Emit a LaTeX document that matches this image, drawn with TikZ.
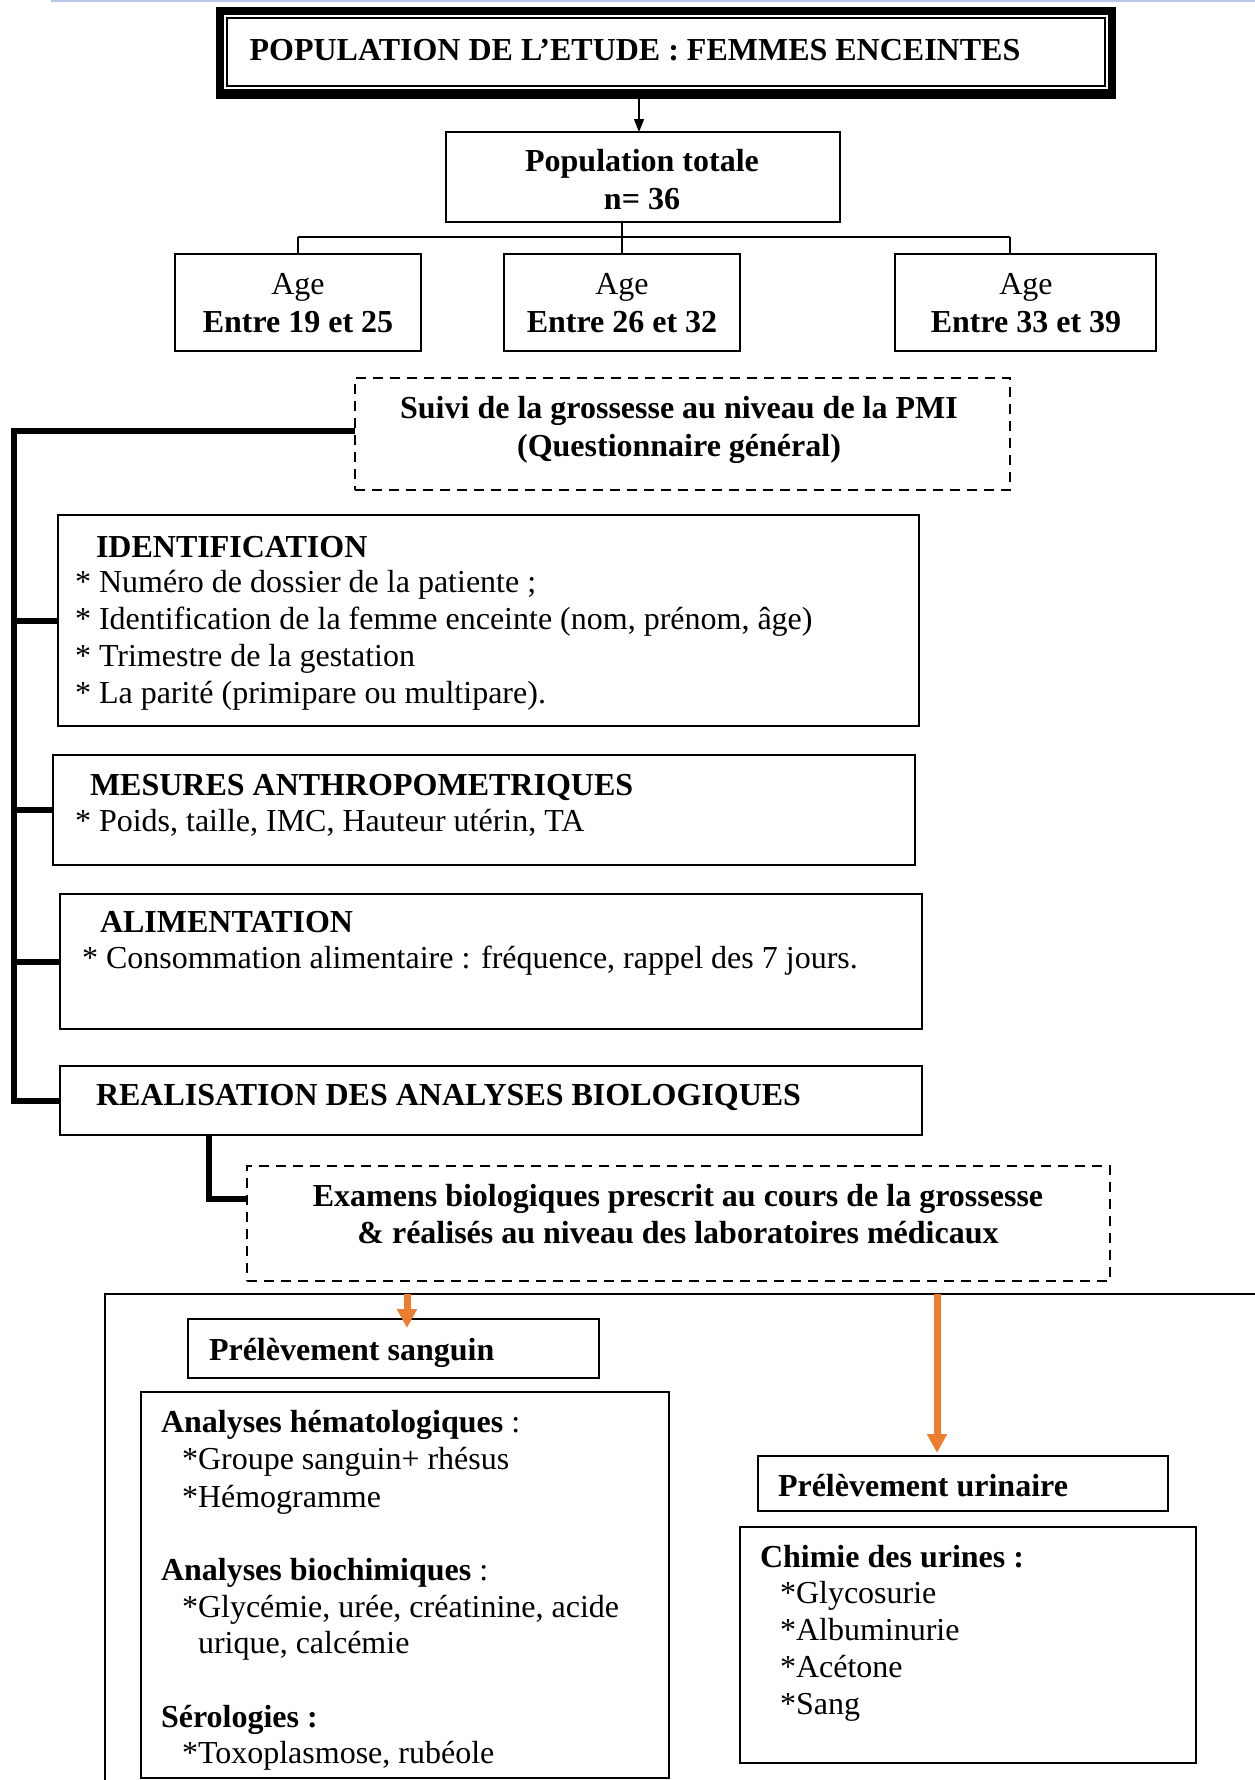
\documentclass[tikz,border=0pt]{standalone}
\usepackage{fontspec}
\setmainfont{Liberation Serif}
\usetikzlibrary{arrows.meta,calc}
\definecolor{topblue}{RGB}{180,199,231}
\definecolor{orangeA}{RGB}{237,125,49}
\begin{document}
\begin{tikzpicture}[x=1pt,y=-1pt,
 every node/.style={font=\fontsize{32}{37}\selectfont, inner sep=0pt, outer sep=0pt},
 bf/.style={font=\fontsize{32}{37}\selectfont\bfseries},
 frame/.style={draw, line width=2pt, anchor=north west},
 dframe/.style={draw, line width=2pt, dash pattern=on 10pt off 7pt, anchor=north west},
 txt/.style={anchor=base west},
 ctxt/.style={anchor=base},
 bracket/.style={line width=6pt},
 thinline/.style={line width=1.5pt},
 oarr/.style={draw=orangeA, line width=7pt, -{Triangle[length=19pt,width=19pt,fill=orangeA]}},
 barr/.style={line width=1.5pt, -{Triangle[length=13pt,width=10pt]}}]
\useasboundingbox (0,0) rectangle (1255,1780);
\fill[white] (0,0) rectangle (1255,1780);

% top rule
\draw[topblue, line width=2pt] (51,1) -- (1255,1);

% title
\node[fill=black, minimum width=900pt, minimum height=92pt, anchor=north west] (title) at (216,7) {};
\node[fill=white, minimum width=884pt, minimum height=74pt, anchor=north west] (titlein) at (224,15) {};
\node[draw, line width=1.5pt, minimum width=878pt, minimum height=68pt, anchor=north west] (titleline) at (227,18) {};
\node[ctxt, bf] (titletxt) at (635,60) {POPULATION DE L’ETUDE : FEMMES ENCEINTES};

% population totale
\node[frame, minimum width=394pt, minimum height=90pt] (pop) at (446,132) {};
\node[ctxt, bf] (poptxta) at (642,171) {Population totale};
\node[ctxt, bf] (poptxtb) at (642,209) {n= 36};
\coordinate (a0) at (639,99);
\draw[barr] (a0) -- (a0 |- pop.north);

% age boxes
\node[frame, minimum width=246pt, minimum height=97pt] (age1) at (175,254) {};
\node[frame, minimum width=236pt, minimum height=97pt] (age2) at (504,254) {};
\node[frame, minimum width=261pt, minimum height=97pt] (age3) at (895,254) {};
\node[ctxt] (age1a) at (298,294) {Age};
\node[ctxt, bf] (age1b) at (298,332) {Entre 19 et 25};
\node[ctxt] (age2a) at (622,294) {Age};
\node[ctxt, bf] (age2b) at (622,332) {Entre 26 et 32};
\node[ctxt] (age3a) at (1026,294) {Age};
\node[ctxt, bf] (age3b) at (1026,332) {Entre 33 et 39};

\coordinate (j) at (622,237);
\coordinate (a3) at (1010,254);
\draw[thinline] (j |- pop.south) -- (j);
\draw[line width=2.2pt] (age1.north |- j) -- (j -| a3);
\draw[thinline] (age1.north |- j) -- (age1.north);
\draw[thinline] (j) -- (j |- age2.north);
\draw[thinline] (j -| a3) -- (a3 |- age3.north);

% suivi
\node[dframe, minimum width=655pt, minimum height=112pt] (suivi) at (355,378) {};
\node[ctxt, bf] (suivia) at (679,418) {Suivi de la grossesse au niveau de la PMI};
\node[ctxt, bf] (suivib) at (679,456) {(Questionnaire général)};

% identification
\node[frame, minimum width=861pt, minimum height=211pt] (id) at (58,515) {};
\node[txt, bf] (idh) at (96,557) {IDENTIFICATION};
\node[txt] (id1) at (75,592) {* Numéro de dossier de la patiente ;};
\node[txt] (id2) at (75,629) {* Identification de la femme enceinte (nom, prénom, âge)};
\node[txt] (id3) at (75,666) {* Trimestre de la gestation};
\node[txt] (id4) at (75,703) {* La parité (primipare ou multipare).};

% mesures
\node[frame, minimum width=862pt, minimum height=110pt] (mes) at (53,755) {};
\node[txt, bf] (mesh) at (90,795) {MESURES ANTHROPOMETRIQUES};
\node[txt] (mes1) at (75,831) {* Poids, taille, IMC, Hauteur utérin, TA};

% alimentation
\node[frame, minimum width=862pt, minimum height=135pt] (ali) at (60,894) {};
\node[txt, bf] (alih) at (100,932) {ALIMENTATION};
\node[txt] (ali1) at (82,968) {* Consommation alimentaire : fréquence, rappel des 7 jours.};

% realisation
\node[frame, minimum width=862pt, minimum height=69pt] (real) at (60,1066) {};
\node[txt, bf] (realt) at (96,1105) {REALISATION DES ANALYSES BIOLOGIQUES};

% left bracket
\coordinate (L) at (14,431);
\draw[bracket] (suivi.west |- L) -- (L) -- (L |- real.west) -- (real.west);
\draw[bracket] (L |- id.west) -- (id.west);
\draw[bracket] (L |- mes.west) -- (mes.west);
\draw[bracket] (L |- ali.west) -- (ali.west);

% examens
\node[dframe, minimum width=863pt, minimum height=115pt] (ex) at (247,1166) {};
\node[ctxt, bf] (exa) at (678,1206) {Examens biologiques prescrit au cours de la grossesse};
\node[ctxt, bf] (exb) at (678,1243) {\& réalisés au niveau des laboratoires médicaux};
\coordinate (K) at (209,1199);
\draw[bracket] (K |- real.south) -- (K) -- (K -| ex.west);

% big frame
\coordinate (bb1) at (105,1780);
\coordinate (bb2) at (105,1294);
\coordinate (bb3) at (1255,1294);
\draw[line width=2pt] (bb1) -- (bb2) -- (bb3);

% prelevements
\node[frame, line width=2.5pt, minimum width=411pt, minimum height=59pt] (sang) at (188,1319) {};
\node[txt, bf] (sangt) at (209,1360) {Prélèvement sanguin};
\node[frame, line width=2.5pt, minimum width=410pt, minimum height=55pt] (uri) at (758,1456) {};
\node[txt, bf] (urit) at (778,1496) {Prélèvement urinaire};

\coordinate (o1) at (407,1294);
\coordinate (o2) at (937,1294);
\draw[oarr] (o1) -- ($(o1 |- sang.north)+(0,9)$);
\draw[oarr] (o2) -- ($(o2 |- uri.north)+(0,-3)$);

% analyses box
\node[frame, minimum width=528pt, minimum height=386pt] (ana) at (141,1392) {};
\node[txt] (ana1) at (161,1432) {\textbf{Analyses hématologiques} :};
\node[txt] (ana2) at (182,1469) {*Groupe sanguin+ rhésus};
\node[txt] (ana3) at (182,1507) {*Hémogramme};
\node[txt] (ana4) at (161,1580) {\textbf{Analyses biochimiques} :};
\node[txt] (ana5) at (182,1617) {*Glycémie, urée, créatinine, acide};
\node[txt] (ana6) at (198,1653) {urique, calcémie};
\node[txt, bf] (ana7) at (161,1727) {Sérologies :};
\node[txt] (ana8) at (182,1763) {*Toxoplasmose, rubéole};

% chimie box
\node[frame, minimum width=456pt, minimum height=236pt] (chim) at (740,1527) {};
\node[txt, bf] (chimh) at (760,1567) {Chimie des urines :};
\node[txt] (chim1) at (780,1603) {*Glycosurie};
\node[txt] (chim2) at (780,1640) {*Albuminurie};
\node[txt] (chim3) at (780,1677) {*Acétone};
\node[txt] (chim4) at (780,1714) {*Sang};
\end{tikzpicture}
\end{document}
